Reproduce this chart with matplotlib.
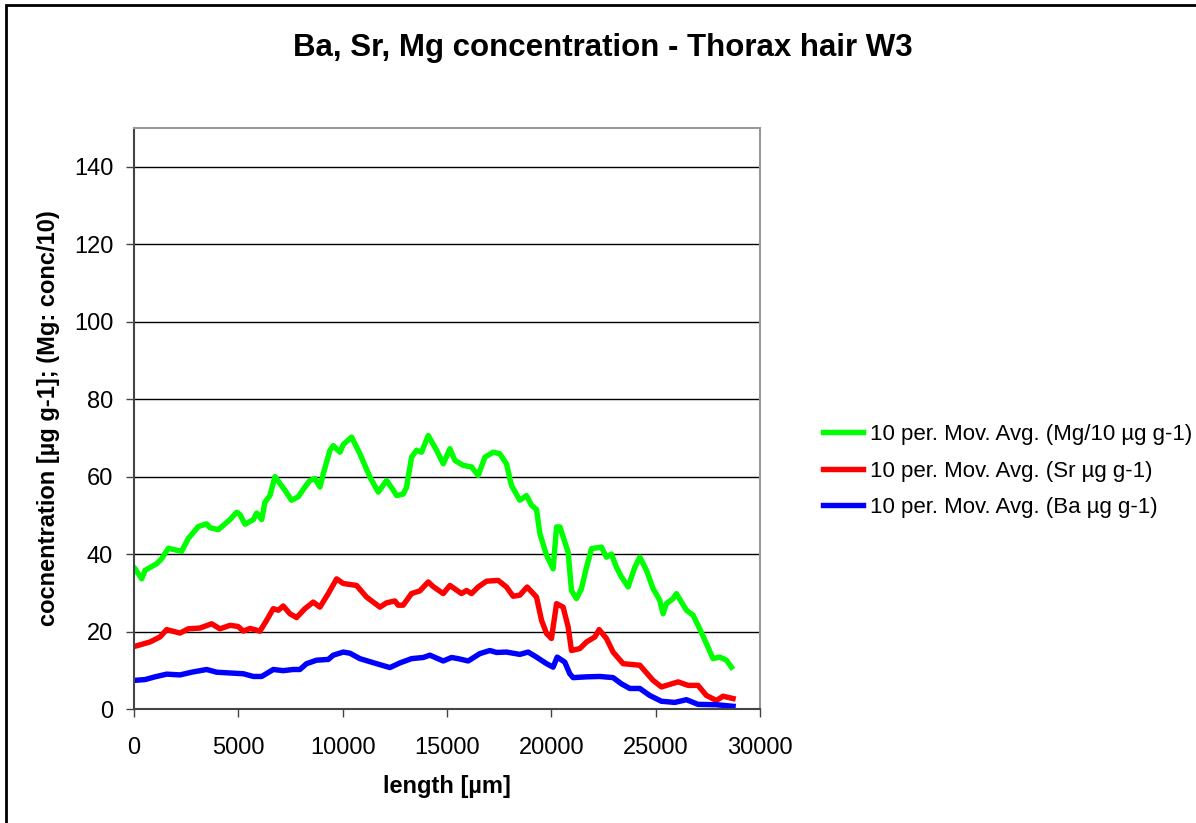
import matplotlib
matplotlib.use('Agg')
import matplotlib.pyplot as plt
from matplotlib.patches import Rectangle

plt.rcParams['font.family'] = ['Liberation Sans', 'DejaVu Sans']

# 10 period moving averages
mg_x = [50, 370, 530, 1085, 1325, 1645, 2280, 2600, 3080, 3480, 3640, 4040, 4600, 4920, 5080,
        5320, 5720, 5880, 6120, 6275, 6515, 6755, 6995, 7230, 7550, 7870, 8190, 8430, 8670,
        8910, 9070, 9390, 9550, 9870, 10030, 10430, 10825, 11305, 11705, 12105, 12425, 12585,
        12900, 13060, 13300, 13540, 13780, 14100, 14500, 14820, 15140, 15375, 15775, 16175,
        16495, 16815, 17210, 17530, 17850, 18090, 18490, 18810, 19050, 19290, 19450, 19770,
        20085, 20250, 20410, 20805, 20965, 21205, 21445, 21685, 21925, 22400, 22640, 22880,
        23120, 23360, 23680, 24000, 24240, 24560, 24875, 25195, 25355, 25515, 25835, 25995,
        26235, 26475, 26795, 27110, 27430, 27750, 28070, 28390, 28630]
mg_y = [36.2, 33.6, 35.8, 37.5, 38.8, 41.5, 40.7, 44.0, 47.1, 47.8, 46.8, 46.3, 48.9, 50.8, 50.2,
        47.7, 48.9, 50.6, 48.9, 53.4, 55.1, 60.0, 58.2, 56.5, 53.9, 54.8, 57.3, 59.0, 59.5,
        57.3, 60.7, 66.8, 68.0, 66.3, 68.3, 70.2, 65.9, 59.9, 56.0, 59.0, 56.5, 55.1,
        55.5, 57.2, 65.0, 66.8, 66.3, 70.6, 66.8, 63.3, 67.2, 64.2, 62.9, 62.5,
        60.3, 65.0, 66.3, 65.9, 63.3, 57.7, 53.9, 55.1, 52.6, 51.5, 45.3, 39.7,
        36.2, 47.0, 47.0, 40.5, 30.6, 28.5, 31.1, 36.6, 41.4, 41.8, 39.2, 40.0,
        36.6, 34.1, 31.5, 36.6, 39.2, 35.8, 31.1, 28.1, 24.6, 27.2, 28.5, 29.8,
        27.6, 25.5, 24.2, 20.7, 16.9, 13.0, 13.4, 12.6, 10.8]

sr_x = [50, 765, 1245, 1565, 2205, 2600, 3160, 3720, 4120, 4600, 4990, 5240, 5560, 6035, 6355,
        6675, 6915, 7150, 7470, 7790, 8190, 8590, 8910, 9310, 9710, 10030, 10665, 11145, 11785,
        12100, 12500, 12660, 12900, 13300, 13700, 14100, 14340, 14820, 15140, 15695, 15935,
        16175, 16495, 16895, 17450, 17850, 18170, 18490, 18840, 19290, 19530, 19770, 20005,
        20250, 20565, 20805, 20965, 21365, 21685, 22085, 22290, 22640, 22960, 23440, 24240,
        24875, 25275, 26075, 26555, 27030, 27430, 27910, 28230, 28710]
sr_y = [16.2, 17.3, 18.6, 20.5, 19.6, 20.7, 20.9, 22.0, 20.7, 21.6, 21.3, 20.1, 20.8, 20.1, 22.9,
        25.9, 25.5, 26.6, 24.6, 23.6, 25.9, 27.6, 26.3, 29.8, 33.6, 32.4, 31.9, 28.9, 26.3,
        27.4, 27.9, 26.8, 26.8, 29.8, 30.5, 32.8, 31.6, 29.8, 31.9, 29.8, 30.6,
        29.8, 31.5, 33.0, 33.2, 31.5, 29.1, 29.4, 31.5, 28.9, 22.9, 19.5, 18.2,
        27.2, 26.3, 21.2, 15.1, 15.6, 17.3, 18.6, 20.5, 18.2, 14.7, 11.7, 11.3,
        7.4, 5.7, 7.0, 6.1, 6.1, 3.5, 2.2, 3.3, 2.7]

ba_x = [50, 530, 1005, 1565, 2205, 2760, 3480, 3960, 4600, 5240, 5720, 6120, 6675, 7150, 7630,
        7950, 8270, 8750, 9310, 9550, 10030, 10350, 10825, 11625, 12265, 12745, 13300, 13860,
        14180, 14820, 15220, 15535, 16015, 16575, 17055, 17370, 17850, 18490, 18890, 19290,
        19770, 20085, 20280, 20645, 20885, 21045, 21685, 22320, 22960, 23360, 23760, 24240,
        24715, 25275, 25915, 26475, 27030, 27910, 28710]
ba_y = [7.4, 7.6, 8.3, 9.0, 8.8, 9.5, 10.2, 9.5, 9.3, 9.1, 8.4, 8.4, 10.2, 9.9, 10.2,
        10.2, 11.7, 12.6, 12.8, 13.9, 14.7, 14.4, 13.0, 11.7, 10.7, 11.9, 13.0, 13.3,
        13.9, 12.4, 13.3, 13.0, 12.4, 14.3, 15.1, 14.6, 14.7, 14.1, 14.7, 13.4,
        11.7, 10.8, 13.4, 12.1, 9.1, 8.1, 8.3, 8.4, 8.1, 6.5, 5.3, 5.3,
        3.5, 2.0, 1.7, 2.4, 1.2, 1.1, 0.7]

fig = plt.figure(figsize=(11.96, 8.23), dpi=100)
ax = fig.add_axes([134 / 1196, 1 - 709 / 823, (760 - 134) / 1196, (709 - 128) / 823])

ax.plot(mg_x, mg_y, color='#00ff00', lw=3.9, label='10 per. Mov. Avg. (Mg/10 µg g-1)')
ax.plot(sr_x, sr_y, color='#ff0000', lw=3.9, label='10 per. Mov. Avg. (Sr µg g-1)')
ax.plot(ba_x, ba_y, color='#0000ff', lw=3.9, label='10 per. Mov. Avg. (Ba µg g-1)')

ax.set_xlim(0, 30000)
ax.set_ylim(0, 150)
ax.set_xticks(range(0, 30001, 5000))
ax.set_yticks(range(0, 141, 20))
ax.yaxis.grid(True, color='black', lw=1)
ax.set_axisbelow(True)
ax.tick_params(labelsize=17, direction='out', length=6, width=1, color='#444444')
ax.tick_params(axis='x', pad=14)
ax.tick_params(axis='y', pad=9)
for s in ['top', 'right']:
    ax.spines[s].set_color('#999999')
    ax.spines[s].set_linewidth(1.5)
for s in ['left', 'bottom']:
    ax.spines[s].set_color('#444444')
    ax.spines[s].set_linewidth(1.5)

ax.set_xlabel('length [µm]', fontsize=17, fontweight='bold', labelpad=12)
ax.set_ylabel('cocnentration [µg g-1]; (Mg: conc/10)', fontsize=17, fontweight='bold', labelpad=10)
fig.text(603 / 1196, 1 - 48 / 823, 'Ba, Sr, Mg concentration - Thorax hair W3',
         fontsize=22.5, fontweight='bold', ha='center', va='center')

ax.legend(loc='center left', bbox_to_anchor=(803 / 1196, 1 - 471 / 823),
          bbox_transform=fig.transFigure, frameon=False, fontsize=16,
          handlelength=1.8, handletextpad=0.3, labelspacing=0.7)

# chart border
fig.patches.append(Rectangle((6 / 1196, -0.1), 1.2, 1.1 - 5 / 823, transform=fig.transFigure,
                             fill=False, edgecolor='black', lw=2))

fig.savefig('out.png', dpi=100)
